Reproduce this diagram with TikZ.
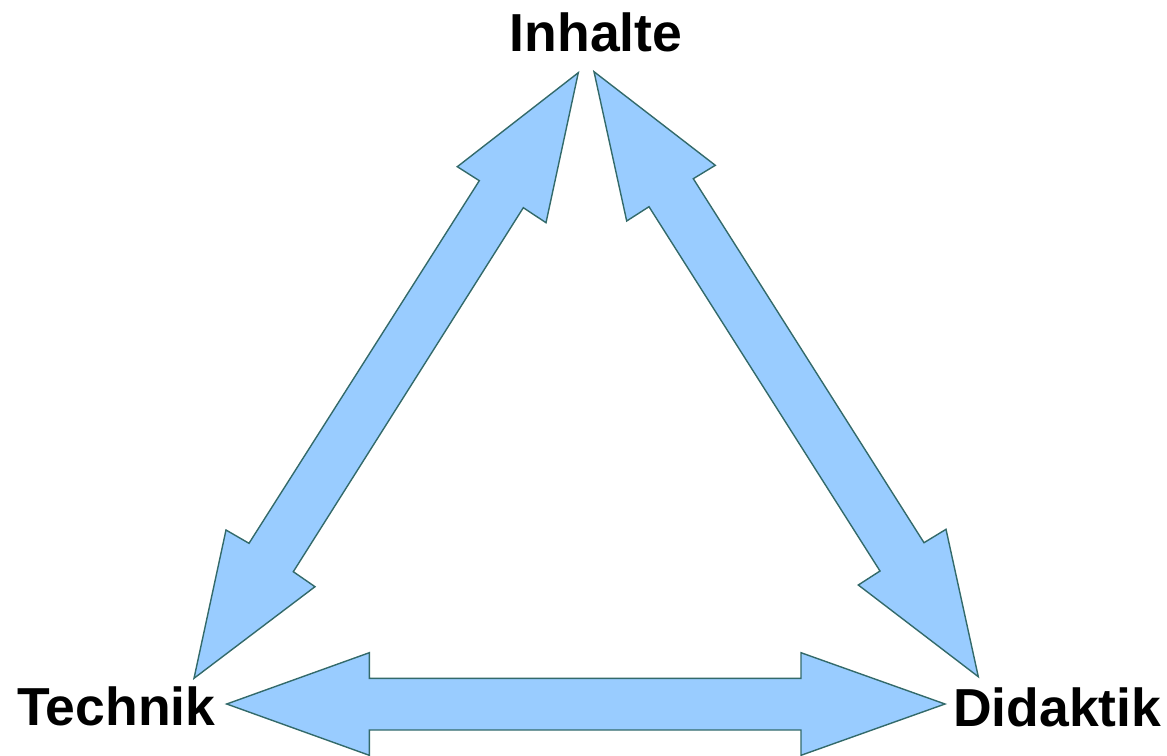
\documentclass[tikz,border=0pt]{standalone}
\usepackage{fontspec}
\setmainfont{Liberation Sans}
\definecolor{arrowfill}{HTML}{99CCFF}
\definecolor{arrowline}{HTML}{336A6A}
\begin{document}
\begin{tikzpicture}[x=1pt,y=-1pt,
  blockarrow/.style={fill=arrowfill,draw=arrowline,line width=1.4pt,line join=miter},
  label/.style={font=\fontsize{53.5}{60}\selectfont\bfseries,inner sep=0pt,anchor=base}]
\useasboundingbox (0,0) rectangle (1167,755);
\clip (0,0) rectangle (1167,755);
% Inhalte -- Technik
\draw[blockarrow] (578.3,72.7) -- (546,222.7) -- (523.3,207.7) -- (293.3,571.7) -- (315,586.7)
  -- (194,678.3) -- (226,530) -- (249,543.3) -- (479.3,180.7) -- (457.3,166.7) -- cycle;
% Inhalte -- Didaktik
\draw[blockarrow] (594,71.7) -- (715.3,165.3) -- (693.3,178.7) -- (924,542.7) -- (946,529.3)
  -- (978.3,676.7) -- (858.3,585) -- (880,571) -- (649,206.7) -- (626.7,221) -- cycle;
% Technik -- Didaktik
\draw[blockarrow] (226.7,704) -- (369.3,652.7) -- (369.3,678.3) -- (801,678.3) -- (801,652.7)
  -- (945,704) -- (801,755.3) -- (801,730) -- (369.3,730) -- (369.3,755.3) -- cycle;
\node[label] (inhalte) at (596,51) {Inhalte};
\node[label,anchor=base west] (technik) at (17,725) {Technik};
\node[label,anchor=base west] (didaktik) at (953,726) {Didaktik};
\end{tikzpicture}
\end{document}
